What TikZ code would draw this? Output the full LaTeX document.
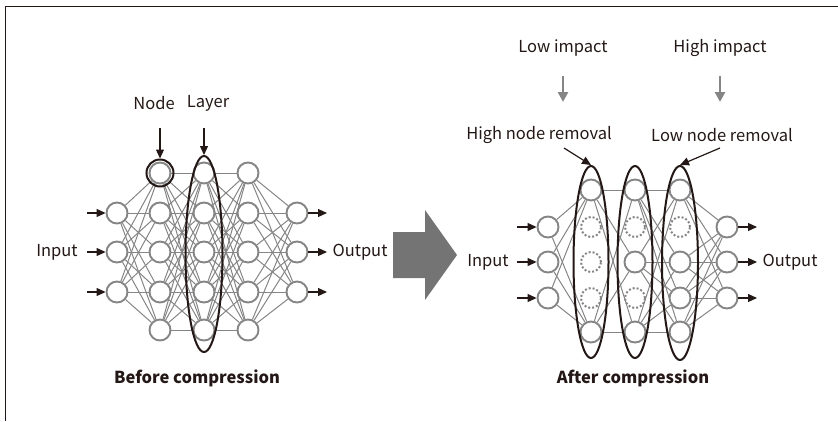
\documentclass[tikz,border=0pt]{standalone}
\usepackage{fontspec}
\setmainfont{Noto Sans CJK JP}
\usetikzlibrary{arrows.meta,shapes.geometric}
\definecolor{ink}{HTML}{231815}
\definecolor{wire}{HTML}{858585}
\definecolor{bigarrow}{HTML}{747474}

\begin{document}
\begin{tikzpicture}[x=1pt,y=-1pt,
  neuron/.style={circle,draw=wire,line width=1.9pt,minimum size=21pt,inner sep=0pt},
  removed/.style={circle,draw=wire,dotted,line width=2pt,minimum size=20pt,inner sep=0pt},
  link/.style={draw=wire,line width=1pt},
  group/.style={draw=ink,line width=2pt,inner sep=0pt},
  lbl/.style={font=\fontsize{16.5}{19}\selectfont,text=ink,inner sep=0pt},
  title/.style={font=\fontsize{16.5}{19}\selectfont\bfseries,text=ink,inner sep=0pt},
  feed/.style={draw=ink,line width=1.2pt,-{Triangle[length=9pt,width=8pt]}},
  hint/.style={draw=wire,line width=2.6pt,-{Triangle[length=10pt,width=10pt]}}
]
\useasboundingbox (0,0) rectangle (838,421);

% frame
\draw[ink,line width=1pt] (5.5,421) -- (5.5,6) -- (838,6);

% ---------- network before compression ----------
\foreach \i/\y in {1/213,2/252,3/292} {
  \node[neuron] (A0-\i) at (117,\y) {};
  \node[neuron] (A4-\i) at (297,\y) {};
}
\foreach \l/\x in {1/160,2/204,3/248} {
  \foreach \i/\y in {1/173,2/213,3/252,4/292,5/330}
    \node[neuron] (A\l-\i) at (\x,\y) {};
}
\foreach \a in {1,2,3} \foreach \b in {1,...,5} {
  \draw[link] (A0-\a) -- (A1-\b);
  \draw[link] (A3-\b) -- (A4-\a);
}
\foreach \a in {1,...,5} \foreach \b in {1,...,5} {
  \draw[link] (A1-\a) -- (A2-\b);
  \draw[link] (A2-\a) -- (A3-\b);
}

\node[circle,group,minimum size=27pt] (nodering) at (A1-1) {};
\node[ellipse,group,minimum width=37pt,minimum height=196pt] (layerring) at (204,254) {};

\node[lbl] (nodelbl) at (154,103) {Node};
\node[lbl] (layerlbl) at (208,103) {Layer};
\coordinate (nodetail) at (160,128);
\coordinate (layertail) at (204,128);
\draw[feed] (nodetail) -- (nodering.north);
\draw[feed] (layertail) -- (layerring.north);

\foreach \i/\y in {1/213,2/252,3/292} {
  \coordinate (ain\i) at (87,\y);
  \coordinate (aout\i) at (327,\y);
  \draw[feed] (ain\i) -- (A0-\i.west);
  \draw[feed] (A4-\i.east) -- (aout\i);
}
\node[lbl] (ainlbl) at (57,252) {Input};
\node[lbl] (aoutlbl) at (360,252) {Output};
\node[title] (before) at (197,378) {Before compression};

% ---------- arrow between the two networks ----------
\fill[bigarrow] (393,232) -- (425,232) -- (425,210) -- (457,255)
  -- (425,300) -- (425,278) -- (393,278) -- cycle;

% ---------- network after compression ----------
\foreach \i/\y in {1/227,2/262,3/298} {
  \node[neuron] (B0-\i) at (548,\y) {};
  \node[neuron] (B4-\i) at (727,\y) {};
}
% first hidden layer: two nodes kept
\node[neuron] (B1-1) at (591,190) {};
\node[removed] (B1-2) at (591,227) {};
\node[removed] (B1-3) at (591,262) {};
\node[removed] (B1-4) at (591,298) {};
\node[neuron] (B1-5) at (591,332) {};
% second hidden layer: three nodes kept
\node[neuron] (B2-1) at (635,190) {};
\node[removed] (B2-2) at (635,227) {};
\node[neuron] (B2-3) at (635,262) {};
\node[removed] (B2-4) at (635,298) {};
\node[neuron] (B2-5) at (635,332) {};
% third hidden layer: four nodes kept
\node[neuron] (B3-1) at (680,190) {};
\node[removed] (B3-2) at (680,227) {};
\node[neuron] (B3-3) at (680,262) {};
\node[neuron] (B3-4) at (680,298) {};
\node[neuron] (B3-5) at (680,332) {};

\foreach \a in {1,2,3} \foreach \b in {1,5}
  \draw[link] (B0-\a) -- (B1-\b);
\foreach \a in {1,5} \foreach \b in {1,3,5}
  \draw[link] (B1-\a) -- (B2-\b);
\foreach \a in {1,3,5} \foreach \b in {1,3,4,5}
  \draw[link] (B2-\a) -- (B3-\b);
\foreach \a in {1,3,4,5} \foreach \b in {1,2,3}
  \draw[link] (B3-\a) -- (B4-\b);

\node[ellipse,group,minimum width=35pt,minimum height=192pt] (ring1) at (591,262) {};
\node[ellipse,group,minimum width=35pt,minimum height=192pt] (ring2) at (635,262) {};
\node[ellipse,group,minimum width=36pt,minimum height=194pt] (ring3) at (680,263) {};

\node[lbl] (lowimp) at (563,48) {Low impact};
\node[lbl] (highimp) at (720,48) {High impact};
\coordinate (lowtop) at (563,76);
\coordinate (lowend) at (563,102);
\coordinate (hightop) at (720,76);
\coordinate (highend) at (720,102);
\draw[hint] (lowtop) -- (lowend);
\draw[hint] (hightop) -- (highend);

\node[lbl] (highrem) at (539,135) {High node removal};
\node[lbl] (lowrem) at (722,135) {Low node removal};
\coordinate (highremtail) at (564,148);
\coordinate (lowremtail) at (720,148);
\draw[feed] (highremtail) -- (ring1.north);
\draw[feed] (lowremtail) -- (ring3.north);

\foreach \i/\y in {1/227,2/262,3/298} {
  \coordinate (bin\i) at (517,\y);
  \coordinate (bout\i) at (757,\y);
  \draw[feed] (bin\i) -- (B0-\i.west);
  \draw[feed] (B4-\i.east) -- (bout\i);
}
\node[lbl] (binlbl) at (488,262) {Input};
\node[lbl] (boutlbl) at (790,262) {Output};
\node[title] (after) at (633,378) {After compression};
\end{tikzpicture}
\end{document}
